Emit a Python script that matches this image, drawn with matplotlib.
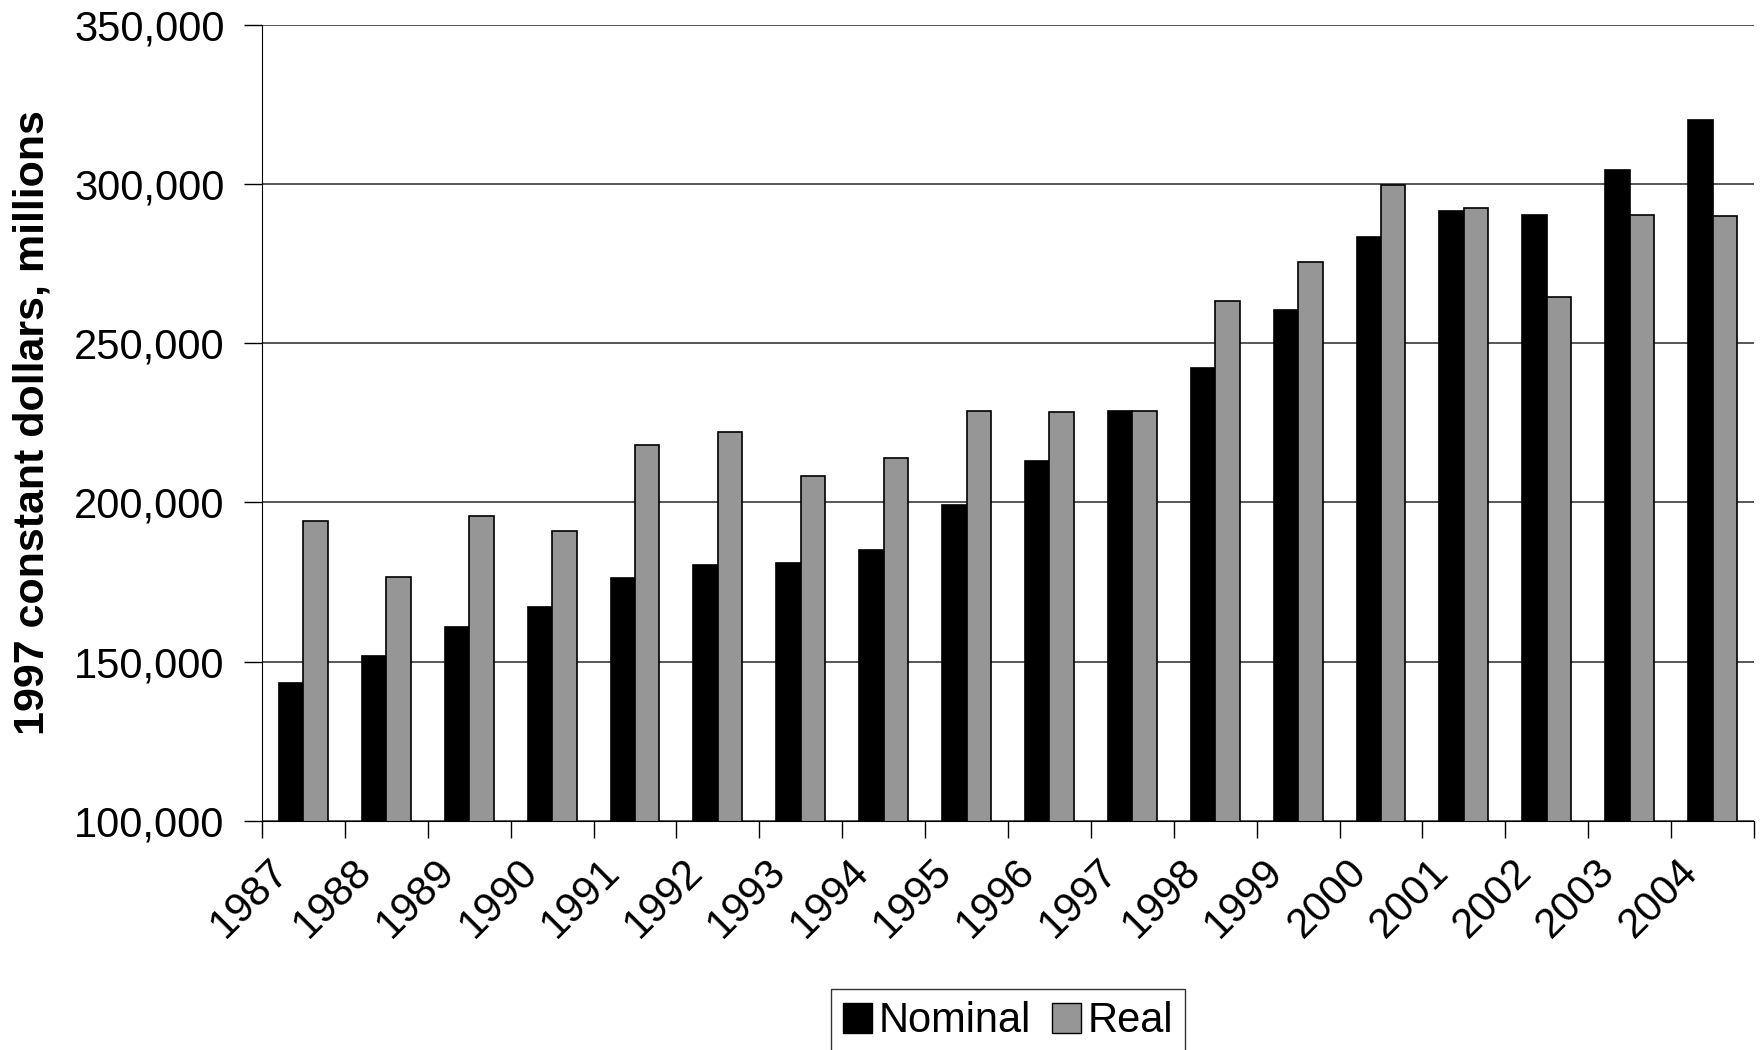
import matplotlib
matplotlib.use("Agg")
import matplotlib.pyplot as plt
import matplotlib.transforms as mtransforms
from matplotlib.patches import Patch
import numpy as np

plt.rcParams['font.family'] = ['Liberation Sans', 'DejaVu Sans']

# Valores en millones de dólares
anios = ['1987', '1988', '1989', '1990', '1991', '1992', '1993', '1994', '1995',
         '1996', '1997', '1998', '1999', '2000', '2001', '2002', '2003', '2004']
nominal = [143400, 151900, 161000, 167300, 176200, 180500, 181100, 185200, 199200,
           213100, 228700, 242200, 260500, 283400, 291600, 290200, 304300, 320000]
real = [194200, 176700, 195800, 191100, 217900, 222100, 208400, 213800, 228800,
        228400, 228600, 263300, 275600, 299700, 292300, 264500, 290300, 289800]

W, H = 1762, 1050
fig = plt.figure(figsize=(W / 100, H / 100), dpi=100)
ax = fig.add_axes([262 / W, 1 - 821 / H, (1754 - 262) / W, (821 - 24.5) / H])

x = np.arange(len(anios))
ancho = 0.295
gris = '#969696'
tam = 30

# Gridlines detrás de las barras
ax.set_axisbelow(True)
ax.yaxis.grid(True, color='#3a3a3a', linewidth=1.2)

ax.bar(x - ancho / 2, nominal, ancho, color='black', edgecolor='black', linewidth=1.2, label='Nominal')
ax.bar(x + ancho / 2, real, ancho, color=gris, edgecolor='black', linewidth=1.2, label='Real')

ax.set_ylim(100000, 350000)
ax.set_xlim(-0.5, len(anios) - 0.5)
ax.set_yticks(np.arange(100000, 350001, 50000))
ax.set_yticklabels([f'{v:,}' for v in range(100000, 350001, 50000)], fontsize=tam)
ax.tick_params(axis='y', length=13, width=1, pad=14, color='black')

# Marcas entre categorías, etiquetas centradas y giradas
ax.set_xticks(np.arange(-0.5, len(anios)), labels=[])
ax.set_xticks(x, labels=anios, minor=True)
ax.tick_params(axis='x', which='major', length=12, width=1, color='black')
ax.tick_params(axis='x', which='minor', length=0, pad=22)
desplazamiento = mtransforms.ScaledTranslation(-0.35, 0, fig.dpi_scale_trans)
for lbl in ax.get_xticklabels(minor=True):
    lbl.set_fontsize(tam)
    lbl.set_rotation(45)
    lbl.set_ha('right')
    lbl.set_va('top')
    lbl.set_rotation_mode('anchor')
    lbl.set_transform(lbl.get_transform() + desplazamiento)

for lado in ['top', 'right']:
    ax.spines[lado].set_visible(False)
ax.spines['left'].set_color('black')
ax.spines['bottom'].set_color('black')

fig.text(33 / W, 1 - 423 / H, '1997 constant dollars, millions', rotation=90,
         fontsize=31, fontweight='bold', ha='center', va='center')

handles = [Patch(facecolor='black', edgecolor='black', label='Nominal'),
           Patch(facecolor=gris, edgecolor='black', label='Real')]
leg = fig.legend(handles=handles, loc='upper center', bbox_to_anchor=(1008 / W, 1 - 989 / H),
                 ncol=2, fontsize=tam, frameon=True, fancybox=False, handlelength=0.7,
                 handleheight=0.7, handletextpad=0.15, columnspacing=0.5, borderpad=0.3,
                 borderaxespad=0)
leg.get_frame().set_edgecolor('black')
leg.get_frame().set_linewidth(1)

fig.savefig('out.png', dpi=100)
